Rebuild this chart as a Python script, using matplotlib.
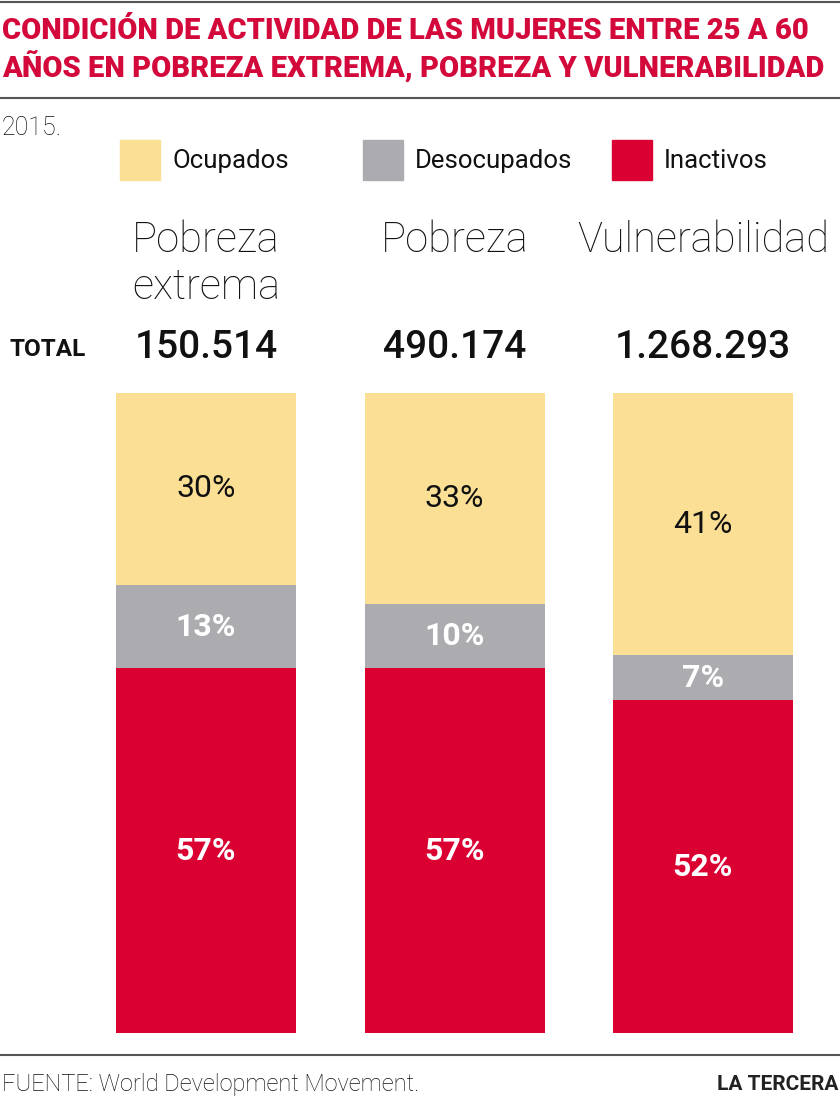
import matplotlib.pyplot as plt
from matplotlib.patches import Rectangle
from matplotlib.lines import Line2D

plt.rcParams['font.family'] = ['Roboto', 'DejaVu Sans']

categories = ['Pobreza\nextrema', 'Pobreza', 'Vulnerabilidad']
totals = ['150.514', '490.174', '1.268.293']
inactivos = [57, 57, 52]
desocupados = [13, 10, 7]
ocupados = [30, 33, 41]
series_names = ['Ocupados', 'Desocupados', 'Inactivos']

c_ocup = '#fbdf95'
c_deso = '#acacb0'
c_inac = '#da0032'
c_title = '#d3093c'

W, H = 840, 1101
fig = plt.figure(figsize=(W / 100, H / 100), dpi=100)


def fx(px):
    return px / W


def fy(py):
    return 1 - py / H


# bars axes: spans full width, bar area from y=393 to y=1033 px
ax = fig.add_axes([0, fy(1033), 1, (1033 - 393) / H])
x = list(range(len(categories)))
step = 248.5
ax.set_xlim(-206 / step, (W - 206) / step)
ax.set_ylim(0, 100)
width = 180 / step
bottoms2 = inactivos
bottoms3 = [a + b for a, b in zip(inactivos, desocupados)]
ax.bar(x, inactivos, width, color=c_inac)
ax.bar(x, desocupados, width, bottom=bottoms2, color=c_deso)
ax.bar(x, ocupados, width, bottom=bottoms3, color=c_ocup)
ax.axis('off')

for i in x:
    ax.text(i, inactivos[i] / 2, f'{inactivos[i]}%', ha='center', va='center',
            color='white', fontsize=23, fontweight='bold')
    ax.text(i, bottoms2[i] + desocupados[i] / 2, f'{desocupados[i]}%', ha='center',
            va='center', color='white', fontsize=23, fontweight='bold')
    ax.text(i, bottoms3[i] + ocupados[i] / 2, f'{ocupados[i]}%', ha='center',
            va='center', color='#111111', fontsize=23)

# header rules
for py in (2, 98, 1055):
    fig.add_artist(Line2D([0, 1], [fy(py), fy(py)], color='#555555', lw=1.5))

fig.text(fx(2), fy(31), 'CONDICIÓN DE ACTIVIDAD DE LAS MUJERES ENTRE 25 A 60',
         color=c_title, fontsize=21, fontweight='heavy', va='center', ha='left')
fig.text(fx(2), fy(68), 'AÑOS EN POBREZA EXTREMA, POBREZA Y VULNERABILIDAD',
         color=c_title, fontsize=21, fontweight='heavy', va='center', ha='left')

fig.text(fx(2), fy(128), '2015.', fontsize=18, color='#111111', va='center',
         fontweight='light')

# legend
leg_x = [120, 363, 612]
for name, col, lx in zip(series_names, [c_ocup, c_deso, c_inac], leg_x):
    fig.add_artist(Rectangle((fx(lx), fy(180)), 40 / W, 40 / H, color=col,
                             transform=fig.transFigure))
    fig.text(fx(lx + 52), fy(161), name, fontsize=18.5, color='#111111', va='center')

# category titles and totals
for i, (cat, tot) in enumerate(zip(categories, totals)):
    cx = fx(206 + step * i)
    fig.text(cx, fy(220), cat, ha='center', va='top', fontsize=30,
             fontweight='light', color='#111111', linespacing=1.2)
    fig.text(cx, fy(347), tot, ha='center', va='center', fontsize=28,
             fontweight='medium', color='#111111')

fig.text(fx(10), fy(350), 'TOTAL', fontsize=17.5, fontweight='bold', va='center',
         color='#111111')

fig.text(fx(2), fy(1085), 'FUENTE: World Development Movement.', fontsize=17,
         va='center', color='#111111', fontweight='light')
fig.text(fx(838), fy(1085), 'LA TERCERA', fontsize=15, fontweight='bold',
         va='center', ha='right', color='#222222')

fig.savefig('out.png', dpi=100)
